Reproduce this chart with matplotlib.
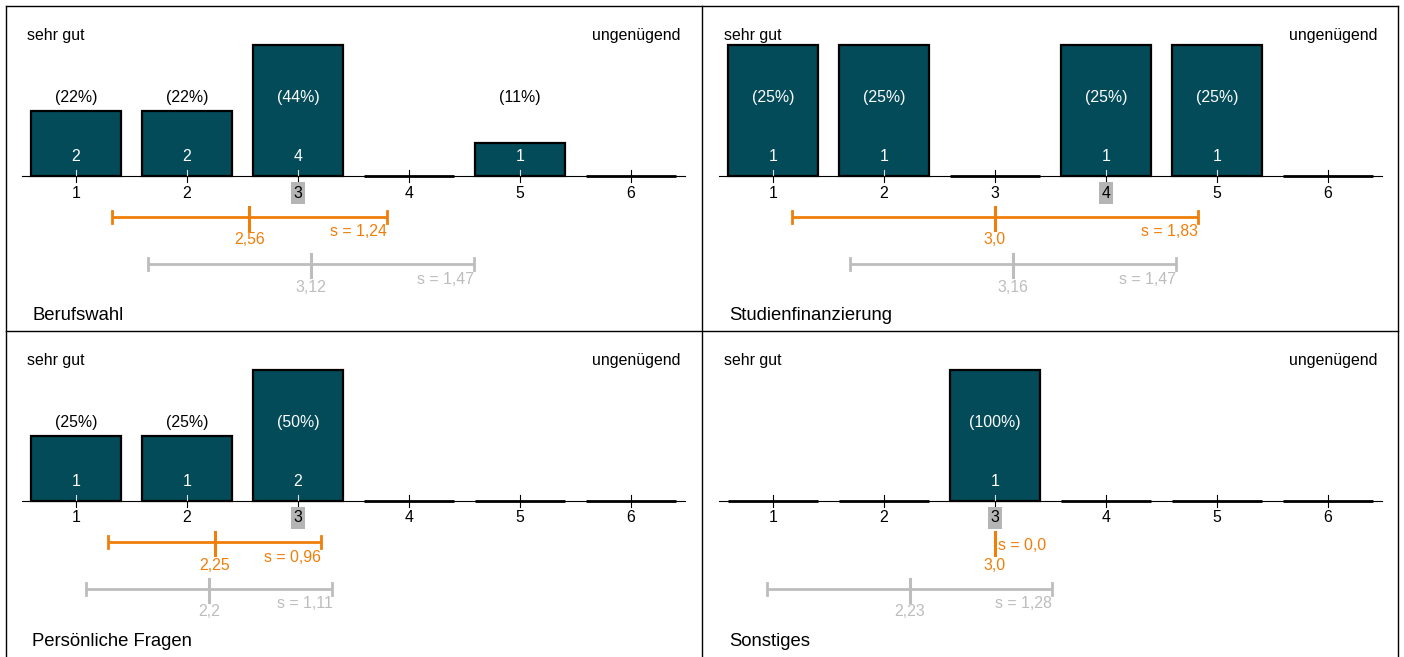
import numpy as np
import matplotlib
matplotlib.use("Agg")
import matplotlib.pyplot as plt
from matplotlib.lines import Line2D

plt.rcParams['font.family'] = ['Liberation Sans', 'DejaVu Sans']

# --- Daten ---
titel = ['Berufswahl', 'Studienfinanzierung', 'Persönliche Fragen', 'Sonstiges']
noten = [1, 2, 3, 4, 5, 6]
anzahl = [
    [2, 2, 4, 0, 1, 0],
    [1, 1, 0, 1, 1, 0],
    [1, 1, 2, 0, 0, 0],
    [0, 0, 1, 0, 0, 0],
]
mittelwert = [2.56, 3.0, 2.25, 3.0]
mittelwert_txt = ['2,56', '3,0', '2,25', '3,0']
std = [1.24, 1.83, 0.96, 0.0]
std_txt = ['1,24', '1,83', '0,96', '0,0']
vergleich_mw = [3.12, 3.16, 2.2, 2.23]
vergleich_mw_txt = ['3,12', '3,16', '2,2', '2,23']
vergleich_std = [1.47, 1.47, 1.11, 1.28]
vergleich_std_txt = ['1,47', '1,47', '1,11', '1,28']
median_note = [3, 4, 3, 3]

# --- Stil ---
BAR = '#034b59'
ORANGE = '#f07f0a'
GRAU = '#bdbdbd'
FS = 11.4
W, H = 1404, 657
PX = 131.0  # Pixel pro maximaler Balkenhöhe

fig = plt.figure(figsize=(W / 100, H / 100), dpi=100)

panel_w, panel_h = 696, 325
for i in range(4):
    row, col = divmod(i, 2)
    left = 6 + col * (panel_w + 1)
    top = 6 + row * panel_h
    ax = fig.add_axes([left / W, 1 - (top + panel_h) / H, panel_w / W, panel_h / H])
    ax.set_axis_off()
    # x: Note 1 bei 70 px vom Rand, 111 px pro Note
    x0 = 1 - 70 / 111
    ax.set_xlim(x0, x0 + panel_w / 111)
    ax.set_ylim(-(panel_h - 170) / PX, 170 / PX)

    def py(p):
        return p / PX

    c = np.array(anzahl[i])
    n = c.sum()
    h = c / c.max()

    # Achse
    ax.plot([1 - 54 / 111, 6 + 54 / 111], [0, 0], color='black', lw=0.8, zorder=1)

    for k, note in enumerate(noten):
        if c[k] > 0:
            ax.bar(note, h[k], width=90 / 111, color=BAR, edgecolor='black',
                   linewidth=1.6, zorder=2)
            ax.plot([note, note], [0, py(6)], color='#dddddd', lw=0.8, zorder=3)
            pct = '(%d%%)' % round(100 * c[k] / n)
            farbe = 'white' if h[k] * PX > 90 else 'black'
            ax.text(note, py(79), pct, color=farbe, ha='center', va='center',
                    fontsize=FS, zorder=4)
            ax.text(note, py(20), str(c[k]), color='white', ha='center', va='center',
                    fontsize=FS, zorder=4)
        else:
            ax.plot([note - 45 / 111, note + 45 / 111], [0, 0], color='black',
                    lw=2, solid_capstyle='butt', zorder=2)
            ax.plot([note, note], [0, py(6)], color='black', lw=0.8, zorder=3)
        ax.plot([note, note], [0, py(-6)], color='black', lw=0.8, zorder=3)
        if note == median_note[i]:
            ax.text(note, py(-17), str(note), ha='center', va='center', fontsize=FS,
                    bbox=dict(facecolor='#b5b5b5', edgecolor='none', pad=2.2))
        else:
            ax.text(note, py(-17), str(note), ha='center', va='center', fontsize=FS)

    ax.text(1 - 49 / 111, py(141), 'sehr gut', ha='left', va='center', fontsize=FS)
    ax.text(6 + 49 / 111, py(141), 'ungenügend', ha='right', va='center', fontsize=FS)

    # Mittelwert +- Standardabweichung
    for mw, sd, mw_t, sd_t, yb, farbe in [
        (mittelwert[i], std[i], mittelwert_txt[i], std_txt[i], -41, ORANGE),
        (vergleich_mw[i], vergleich_std[i], vergleich_mw_txt[i], vergleich_std_txt[i], -88, GRAU),
    ]:
        lo, hi = mw - sd, mw + sd
        ax.plot([lo, hi], [py(yb), py(yb)], color=farbe, lw=2, solid_capstyle='butt')
        for e in (lo, hi):
            ax.plot([e, e], [py(yb - 6), py(yb + 6)], color=farbe, lw=2)
        ax.plot([mw, mw], [py(yb - 13), py(yb + 10)], color=farbe, lw=2.2)
        ax.text(mw, py(yb - 23), mw_t, color=farbe, ha='center', va='center', fontsize=FS)
        if sd > 0:
            ax.text(hi, py(yb - 15), 's = ' + sd_t, color=farbe, ha='right', va='center',
                    fontsize=FS)
        else:
            ax.text(hi + 3 / 111, py(yb - 4), 's = ' + sd_t, color=farbe, ha='left',
                    va='center', fontsize=FS)

    ax.text(1 - 44 / 111, py(-140), titel[i], ha='left', va='center', fontsize=13.3)

# Rahmen
for (xa, ya, xb, yb) in [(6, 6, 1398, 6), (6, 6, 6, 657), (1398, 6, 1398, 657),
                         (702, 6, 702, 657), (6, 331, 1398, 331)]:
    fig.add_artist(Line2D([xa / W, xb / W], [1 - ya / H, 1 - yb / H],
                          color='black', lw=1, transform=fig.transFigure))

fig.savefig('out.png', dpi=100)
